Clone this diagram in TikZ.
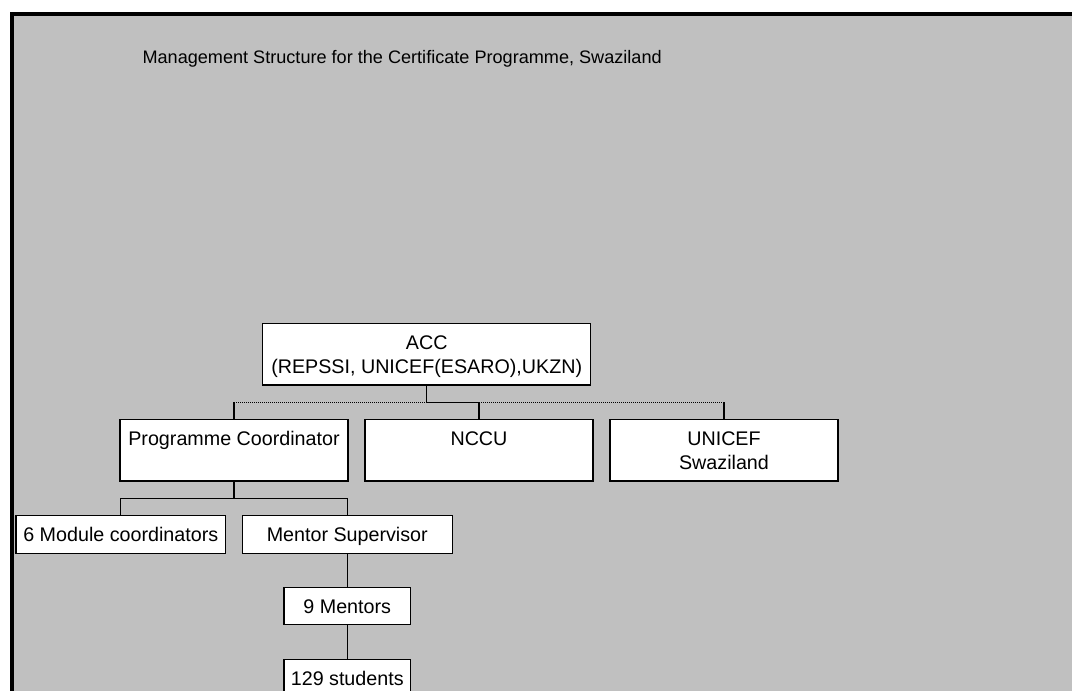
\documentclass[tikz,border=0pt]{standalone}
\usepackage{fontspec}
\setmainfont{Liberation Sans}
\usetikzlibrary{positioning,calc}
\definecolor{panelgray}{RGB}{192,192,192}
\newcommand{\hiln}{\rule{0pt}{19.5pt}}
\newcommand{\loln}{\rule[-4.5pt]{0pt}{4.5pt}}

\begin{document}
\begin{tikzpicture}[x=1pt,y=1pt,line width=1.2pt,font=\fontsize{19.7}{24}\selectfont,
	box/.style={draw,fill=white,inner sep=0pt,outer sep=0pt},
	twobox/.style={box,align=center,minimum width=228pt,minimum height=61.7pt},
	onebox/.style={box,minimum height=37.5pt,text height=14.2pt,text depth=0pt},
	dotline/.style={line width=1pt,dash pattern=on 1pt off 1pt}]
	\useasboundingbox (0,0) rectangle (1072,-691);
	\clip (0,0) rectangle (1072,-691);
	\fill[panelgray] (12,-14) rectangle (1080,-700);
	\draw[line width=4pt] (12,-700) -- (12,-14) -- (1080,-14);
	\node[anchor=base west,inner sep=0pt,font=\fontsize{18.1}{22}\selectfont] (title) at (142,-63) {Management Structure for the Certificate Programme, Swaziland};
	
	\node[twobox,minimum width=328pt] (acc) at (426.7,-354.2) {\hiln ACC\\(REPSSI, UNICEF(ESARO),UKZN)\loln};
	\node[twobox] (pc) at (234,-450.2) {\hiln Programme Coordinator\\\loln};
	\node[twobox,right=17pt of pc] (nccu) {\hiln NCCU\\\loln};
	\node[twobox,right=17pt of nccu] (unsw) {\hiln UNICEF\\Swaziland\loln};
	
	\node[onebox,minimum width=209.7pt] (mod) at (120.8,-534.5) {6 Module coordinators};
	\node[onebox,minimum width=210pt,right=16.6pt of mod] (ms) {Mentor Supervisor};
	\node[onebox,minimum width=126.7pt,below=34pt of ms] (men) {9 Mentors};
	\node[onebox,minimum width=126.7pt,below=34.5pt of men] (stu) {129 students};
	
	\coordinate (accbus) at ($(acc.south)+(0,-17.3)$);
	\draw (acc.south) -- (accbus) -- (accbus -| nccu.north) -- (nccu.north);
	\draw[dotline] (accbus) -- (accbus -| pc.north);
	\draw (accbus -| pc.north) -- (pc.north);
	\draw[dotline] (accbus -| nccu.north) -- (accbus -| unsw.north);
	\draw (accbus -| unsw.north) -- (unsw.north);
	
	\coordinate (pcbus) at ($(pc.south)+(0,-17.3)$);
	\draw (pc.south) -- (pcbus);
	\draw (mod.north) |- (pcbus) -| (ms.north);
	\draw (ms) -- (men);
	\draw (men) -- (stu);
\end{tikzpicture}
\end{document}
